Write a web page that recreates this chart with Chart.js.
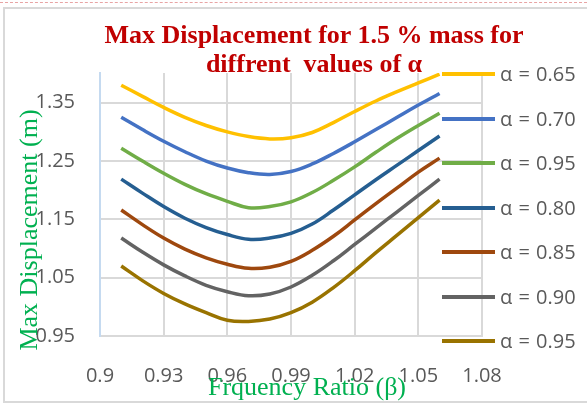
<!DOCTYPE html>
<html>
<head>
<meta charset="utf-8">
<script src="https://cdn.jsdelivr.net/npm/chart.js@4.4.0/dist/chart.umd.min.js"></script>
<style>
  html, body { margin: 0; padding: 0; background: #fff; }
  #wrap { position: relative; width: 587px; height: 405px; overflow: hidden; }
  #frame { position: absolute; left: 3px; top: 7px; width: 620px; height: 396px; border: 2px solid #d9d9d9; box-sizing: border-box; }
  #topline { position: absolute; left: 0; top: 2px; width: 587px; border-top: 1px dashed #e8a4a4; }
  canvas { position: absolute; left: 0; top: 0; }
  .serif { position: absolute; font-family: "Liberation Serif", "Times New Roman", serif; white-space: pre; text-align: center; }
  #title { left: 64px; top: 20px; width: 500px; font-size: 26px; line-height: 29px; font-weight: bold; color: #c00000; }
  #ytitle { left: -121px; top: 215px; width: 300px; height: 30px; font-size: 26px; line-height: 30px; color: #00b050; transform: rotate(-90deg); }
  #xtitle { left: 157px; top: 372px; width: 300px; font-size: 26px; line-height: 29px; color: #00b050; }
  #legend { position: absolute; left: 0; top: 0; }
  .item { position: absolute; height: 26px; font-family: "Open Sans", sans-serif; font-size: 20px; line-height: 26px; color: #595959; white-space: pre; word-spacing: 1px; }
  .item span.ln { position: absolute; left: 0; top: 11px; width: 53px; height: 4px; }
  .item span.tx { position: absolute; left: 58px; top: 0; }
</style>
</head>
<body>
<div id="wrap">
  <div id="topline"></div>
  <div id="frame"></div>
  <canvas id="myChart" width="587" height="405"></canvas>
  <div id="title" class="serif">Max Displacement for 1.5 % mass for
diffrent  values of α</div>
  <div id="ytitle" class="serif">Max Displacement (m)</div>
  <div id="xtitle" class="serif">Frquency Ratio (β)</div>
  <div id="legend"></div>
</div>
<script>
// frequency ratio (beta) values
const beta = [0.91, 0.92, 0.93, 0.94, 0.95, 0.96, 0.97, 0.98, 0.99, 1.00, 1.01, 1.02, 1.03, 1.04, 1.05, 1.06];

const seriesNames = ["α = 0.65", "α = 0.70", "α = 0.95", "α = 0.80", "α = 0.85", "α = 0.90", "α = 0.95"];

// max displacement (m) for each alpha
const a065 = [1.380, 1.361, 1.342, 1.325, 1.311, 1.300, 1.292, 1.288, 1.290, 1.299, 1.316, 1.335, 1.353, 1.369, 1.384, 1.399];
const a070 = [1.325, 1.304, 1.284, 1.266, 1.250, 1.238, 1.230, 1.227, 1.232, 1.245, 1.263, 1.283, 1.304, 1.325, 1.346, 1.366];
const a095b = [1.272, 1.250, 1.229, 1.210, 1.194, 1.181, 1.170, 1.172, 1.180, 1.196, 1.217, 1.240, 1.265, 1.289, 1.311, 1.332];
const a080 = [1.219, 1.195, 1.172, 1.152, 1.136, 1.124, 1.116, 1.118, 1.126, 1.142, 1.166, 1.192, 1.218, 1.243, 1.268, 1.293];
const a085 = [1.166, 1.141, 1.118, 1.099, 1.084, 1.073, 1.066, 1.068, 1.078, 1.097, 1.121, 1.149, 1.177, 1.204, 1.231, 1.255];
const a090 = [1.118, 1.094, 1.072, 1.053, 1.037, 1.026, 1.019, 1.022, 1.034, 1.054, 1.079, 1.107, 1.135, 1.163, 1.191, 1.219];
const a095 = [1.070, 1.045, 1.023, 1.005, 0.990, 0.977, 0.975, 0.979, 0.990, 1.008, 1.033, 1.062, 1.093, 1.123, 1.153, 1.183];

const xTicks = [0.9, 0.93, 0.96, 0.99, 1.02, 1.05, 1.08];
const yTicks = [0.95, 1.05, 1.15, 1.25, 1.35];

const colors = ["#FFC000", "#4472C4", "#70AD47", "#255E91", "#9E480E", "#636363", "#997300"];
const allSeries = [a065, a070, a095b, a080, a085, a090, a095];

const datasets = allSeries.map(function (vals, i) {
    return {
        label: seriesNames[i],
        data: vals.map(function (v, j) { return { x: beta[j], y: v }; }),
        borderColor: colors[i],
        backgroundColor: colors[i],
        borderWidth: 3.5,
        pointRadius: 0,
        tension: 0.4,
        fill: false,
    };
});

// html legend, sits partly over the plot like the original
const legend = document.getElementById("legend");
datasets.forEach(function (ds, i) {
    const item = document.createElement("div");
    item.className = "item";
    item.style.left = "442px";
    item.style.top = (61 + i * 44.5) + "px";
    item.innerHTML = '<span class="ln" style="background:' + ds.borderColor + '"></span><span class="tx"></span>';
    item.querySelector(".tx").textContent = ds.label;
    legend.appendChild(item);
});

const tickFont = { family: "'Open Sans', sans-serif", size: 20 };

const ctx = document.getElementById("myChart").getContext("2d");
new Chart(ctx, {
    type: "line",
    data: { datasets: datasets },
    options: {
        responsive: false,
        animation: false,
        devicePixelRatio: 1,
        layout: { padding: { top: 73, right: 105, bottom: 0, left: 0 } },
        plugins: {
            legend: { display: false },
            tooltip: { enabled: false },
        },
        scales: {
            x: {
                type: "linear",
                min: 0.9,
                max: 1.08,
                afterBuildTicks: function (s) { s.ticks = xTicks.map(function (v) { return { value: v }; }); },
                afterFit: function (s) { s.height = 69; },
                grid: { color: "#D9D9D9", lineWidth: 2, drawTicks: false },
                border: { color: "#D9D9D9", width: 2 },
                ticks: {
                    autoSkip: false,
                    maxRotation: 0,
                    padding: 28,
                    color: "#595959",
                    font: tickFont,
                    callback: function (v) { return String(v); },
                },
            },
            y: {
                type: "linear",
                min: 0.95,
                max: 1.401,
                afterBuildTicks: function (s) { s.ticks = yTicks.map(function (v) { return { value: v }; }); },
                afterFit: function (s) { s.width = 100; },
                grid: { color: "#D9D9D9", lineWidth: 2, drawTicks: false },
                border: { color: "#C5DAF0", width: 2 },
                ticks: {
                    padding: 25,
                    color: "#595959",
                    font: tickFont,
                    callback: function (v) { return v.toFixed(2); },
                },
            },
        },
    },
});
</script>
</body>
</html>
